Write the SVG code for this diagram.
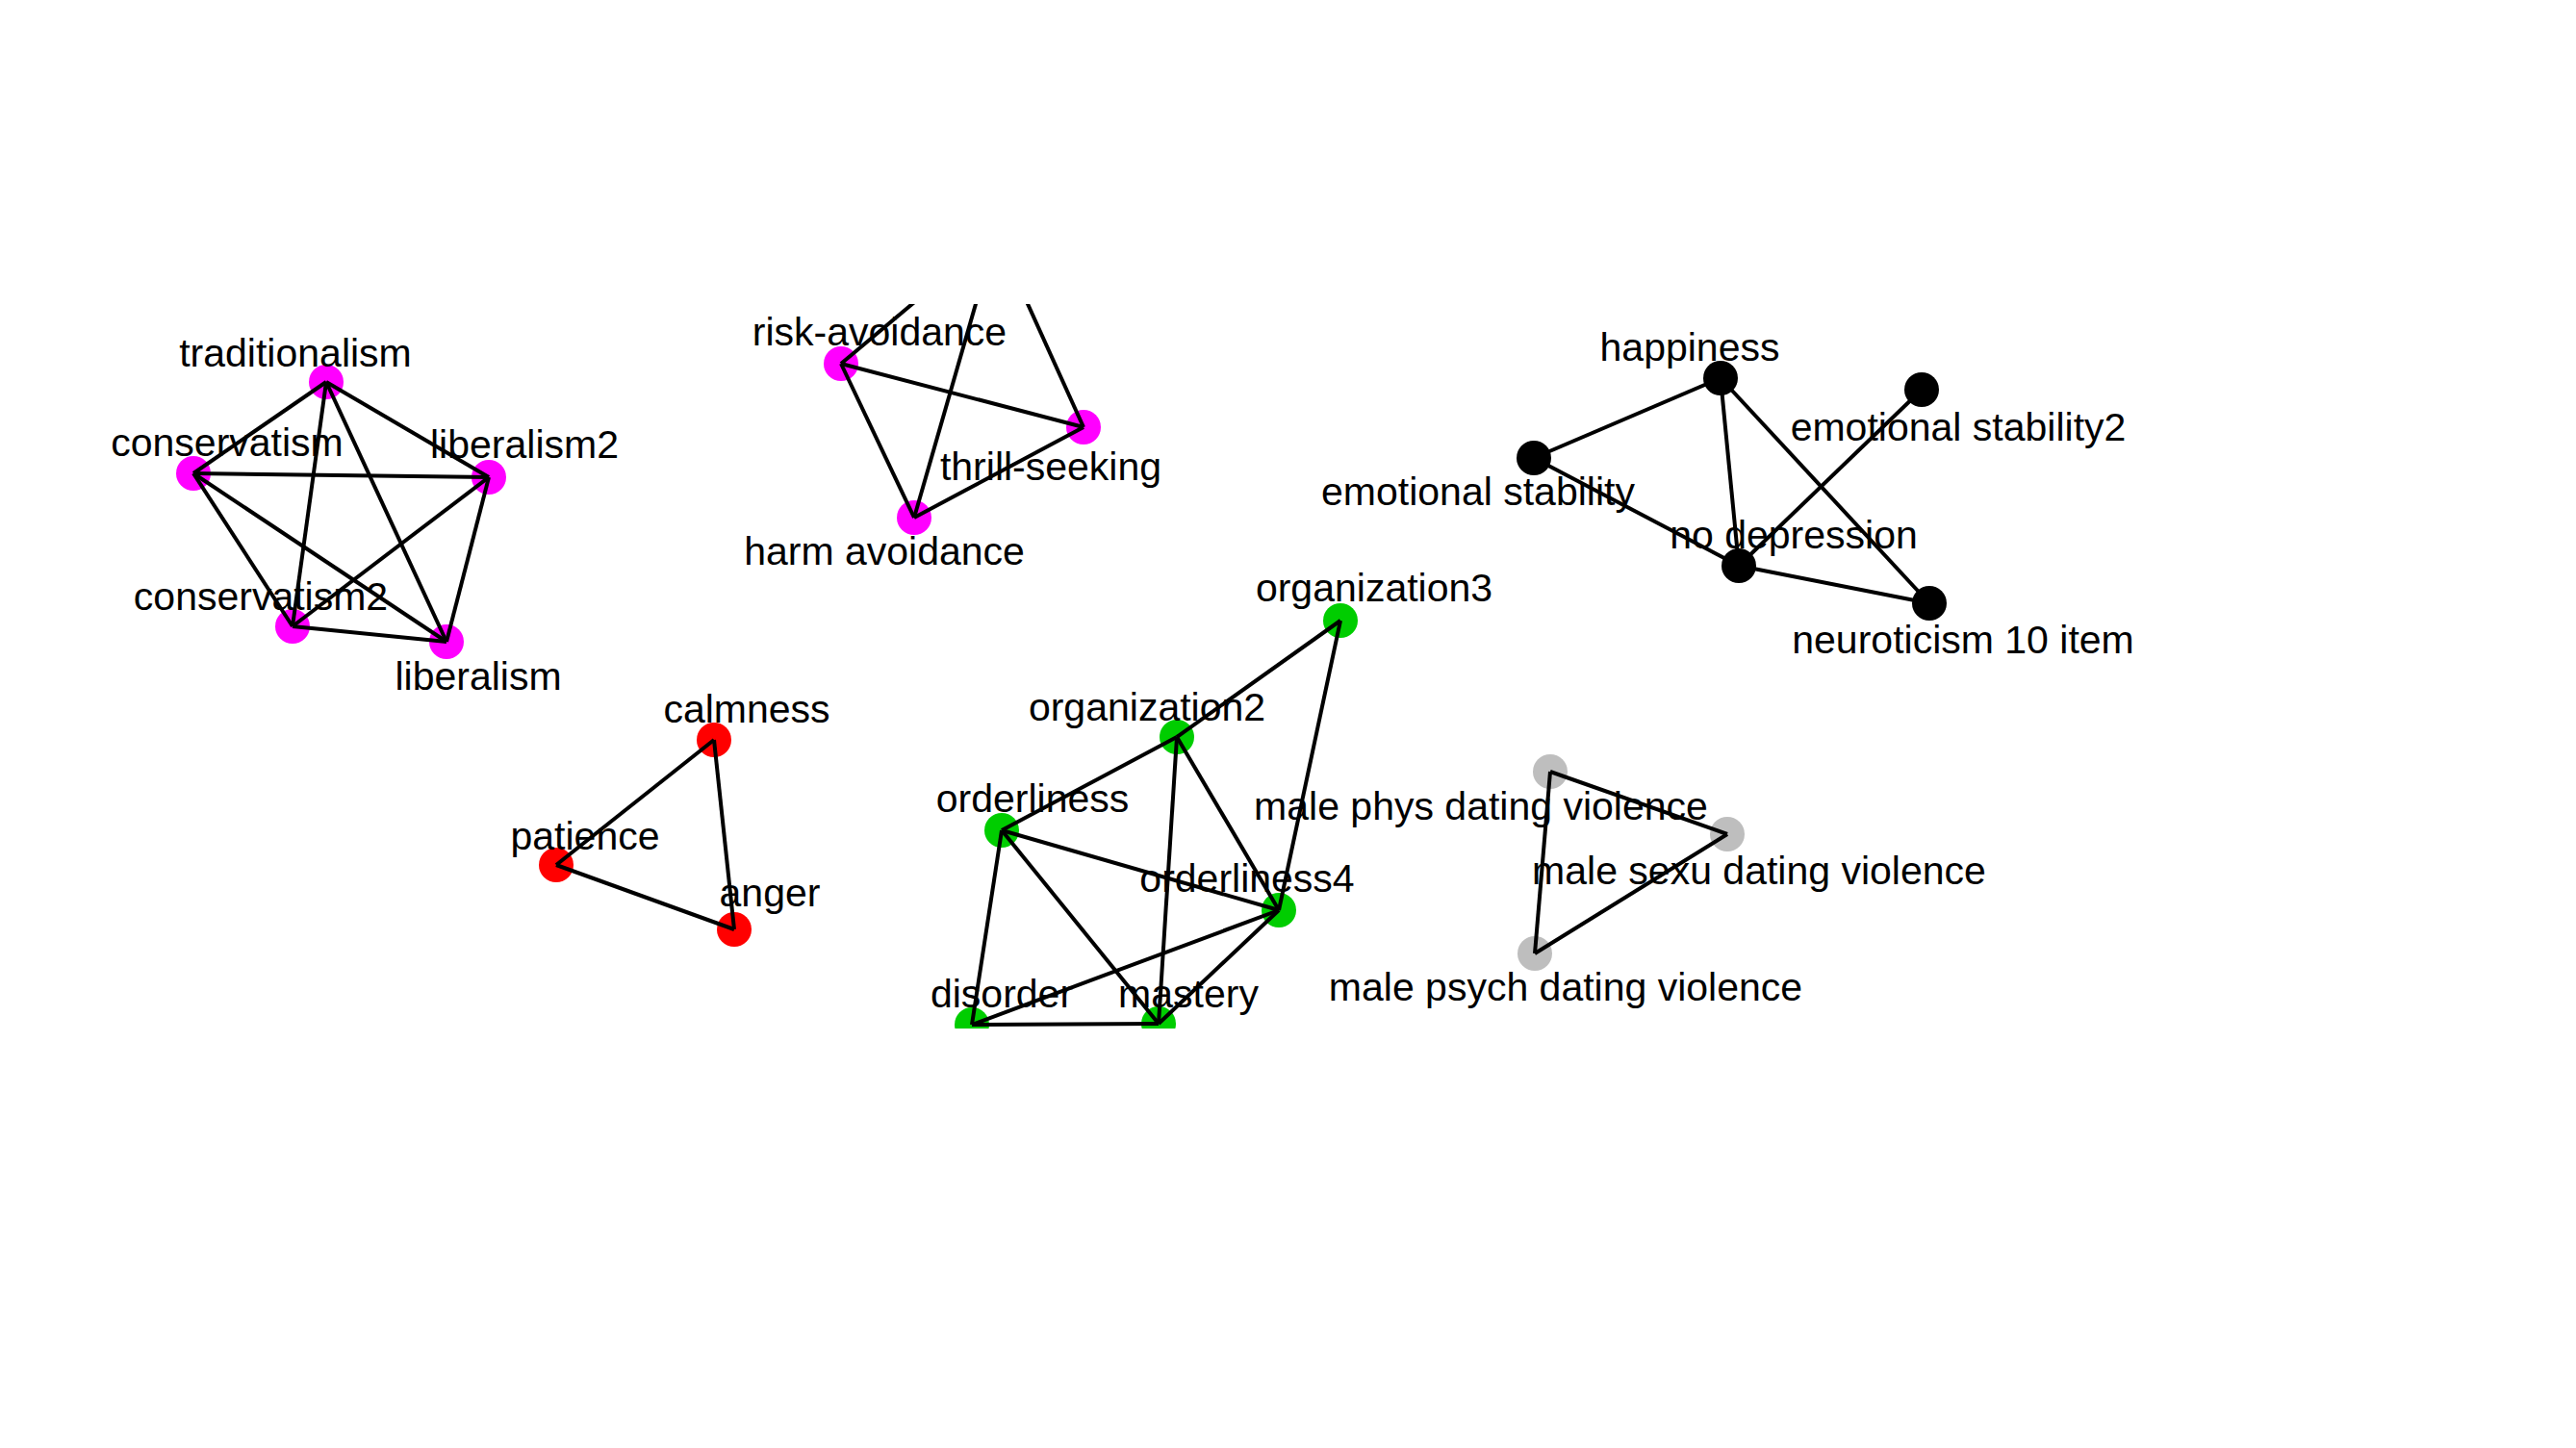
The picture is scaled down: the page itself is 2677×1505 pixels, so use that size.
<svg xmlns="http://www.w3.org/2000/svg" width="2677" height="1505" viewBox="0 0 2677 1505">
<style>
.e{stroke:#000;stroke-width:4;fill:none}
.t{font-family:"Liberation Sans",Arial,sans-serif;font-size:41px;fill:#000;text-anchor:middle}
.m{fill:#FF00FF}.r{fill:#FF0000}.g{fill:#00CD00}.k{fill:#000}.y{fill:#BEBEBE}
</style>
<defs><clipPath id="plot"><rect x="0" y="316" width="2677" height="753"/></clipPath></defs>
<rect width="2677" height="1505" fill="#fff"/>
<g clip-path="url(#plot)">
<g id="traditionalism"><circle class="m" cx="339" cy="397" r="18"/></g>
<g id="conservatism"><circle class="m" cx="201" cy="492" r="18"/></g>
<g id="liberalism2"><circle class="m" cx="508" cy="496" r="18"/></g>
<g id="conservatism2"><circle class="m" cx="304" cy="651" r="18"/></g>
<g id="liberalism"><circle class="m" cx="464" cy="667" r="18"/></g>
<g id="risk-avoidance"><circle class="m" cx="874" cy="378" r="18"/></g>
<g id="thrill-seeking"><circle class="m" cx="1126" cy="444" r="18"/></g>
<g id="harm-avoidance"><circle class="m" cx="950" cy="538" r="18"/></g>
<g id="happiness"><circle class="k" cx="1788" cy="393" r="18"/></g>
<g id="emotional-stability2"><circle class="k" cx="1997" cy="405" r="18"/></g>
<g id="emotional-stability"><circle class="k" cx="1594" cy="476" r="18"/></g>
<g id="no-depression"><circle class="k" cx="1807" cy="588" r="18"/></g>
<g id="neuroticism-10-item"><circle class="k" cx="2005" cy="627" r="18"/></g>
<g id="calmness"><circle class="r" cx="742" cy="769" r="18"/></g>
<g id="patience"><circle class="r" cx="578" cy="899" r="18"/></g>
<g id="anger"><circle class="r" cx="763" cy="966" r="18"/></g>
<g id="organization3"><circle class="g" cx="1393" cy="645" r="18"/></g>
<g id="organization2"><circle class="g" cx="1223" cy="766" r="18"/></g>
<g id="orderliness"><circle class="g" cx="1041" cy="863" r="18"/></g>
<g id="orderliness4"><circle class="g" cx="1329" cy="946" r="18"/></g>
<g id="disorder"><circle class="g" cx="1010" cy="1065" r="18"/></g>
<g id="mastery"><circle class="g" cx="1204" cy="1064" r="18"/></g>
<g id="male-phys"><circle class="y" cx="1611" cy="802" r="18"/></g>
<g id="male-sexu"><circle class="y" cx="1795" cy="867" r="18"/></g>
<g id="male-psych"><circle class="y" cx="1595" cy="991" r="18"/></g>
<g id="connectors" class="e">
<line x1="339" y1="397" x2="201" y2="492"/>
<line x1="339" y1="397" x2="508" y2="496"/>
<line x1="339" y1="397" x2="304" y2="651"/>
<line x1="339" y1="397" x2="464" y2="667"/>
<line x1="201" y1="492" x2="508" y2="496"/>
<line x1="201" y1="492" x2="304" y2="651"/>
<line x1="201" y1="492" x2="464" y2="667"/>
<line x1="508" y1="496" x2="304" y2="651"/>
<line x1="508" y1="496" x2="464" y2="667"/>
<line x1="304" y1="651" x2="464" y2="667"/>
<line x1="874" y1="378" x2="1126" y2="444"/>
<line x1="874" y1="378" x2="950" y2="538"/>
<line x1="950" y1="538" x2="1126" y2="444"/>
<line x1="874" y1="378" x2="1035" y2="243"/>
<line x1="950" y1="538" x2="1035" y2="243"/>
<line x1="1126" y1="444" x2="1035" y2="243"/>
<line x1="1788" y1="393" x2="1594" y2="476"/>
<line x1="1788" y1="393" x2="1807" y2="588"/>
<line x1="1788" y1="393" x2="2005" y2="627"/>
<line x1="1594" y1="476" x2="1807" y2="588"/>
<line x1="1807" y1="588" x2="1997" y2="405"/>
<line x1="1807" y1="588" x2="2005" y2="627"/>
<line x1="742" y1="769" x2="578" y2="899"/>
<line x1="742" y1="769" x2="763" y2="966"/>
<line x1="578" y1="899" x2="763" y2="966"/>
<line x1="1393" y1="645" x2="1223" y2="766"/>
<line x1="1393" y1="645" x2="1329" y2="946"/>
<line x1="1223" y1="766" x2="1041" y2="863"/>
<line x1="1223" y1="766" x2="1204" y2="1064"/>
<line x1="1223" y1="766" x2="1329" y2="946"/>
<line x1="1041" y1="863" x2="1329" y2="946"/>
<line x1="1041" y1="863" x2="1010" y2="1065"/>
<line x1="1041" y1="863" x2="1204" y2="1064"/>
<line x1="1329" y1="946" x2="1010" y2="1065"/>
<line x1="1329" y1="946" x2="1204" y2="1064"/>
<line x1="1010" y1="1065" x2="1204" y2="1064"/>
<line x1="1611" y1="802" x2="1795" y2="867"/>
<line x1="1611" y1="802" x2="1595" y2="991"/>
<line x1="1795" y1="867" x2="1595" y2="991"/>
</g>
</g>
<g id="labels" class="t">
<text x="307" y="381">traditionalism</text>
<text x="236" y="474">conservatism</text>
<text x="545" y="476">liberalism2</text>
<text x="271" y="634">conservatism2</text>
<text x="497" y="717">liberalism</text>
<text x="914" y="359">risk-avoidance</text>
<text x="1092" y="499">thrill-seeking</text>
<text x="919" y="587">harm avoidance</text>
<text x="1756" y="375">happiness</text>
<text x="2035" y="458">emotional stability2</text>
<text x="1536" y="525">emotional stability</text>
<text x="1864" y="570">no depression</text>
<text x="2040" y="679">neuroticism 10 item</text>
<text x="776" y="751">calmness</text>
<text x="608" y="883">patience</text>
<text x="800" y="942">anger</text>
<text x="1428" y="625">organization3</text>
<text x="1192" y="749">organization2</text>
<text x="1073" y="844">orderliness</text>
<text x="1296" y="927">orderliness4</text>
<text x="1041" y="1047">disorder</text>
<text x="1235" y="1047">mastery</text>
<text x="1539" y="852">male phys dating violence</text>
<text x="1828" y="919">male sexu dating violence</text>
<text x="1627" y="1040">male psych dating violence</text>
</g>
</svg>
